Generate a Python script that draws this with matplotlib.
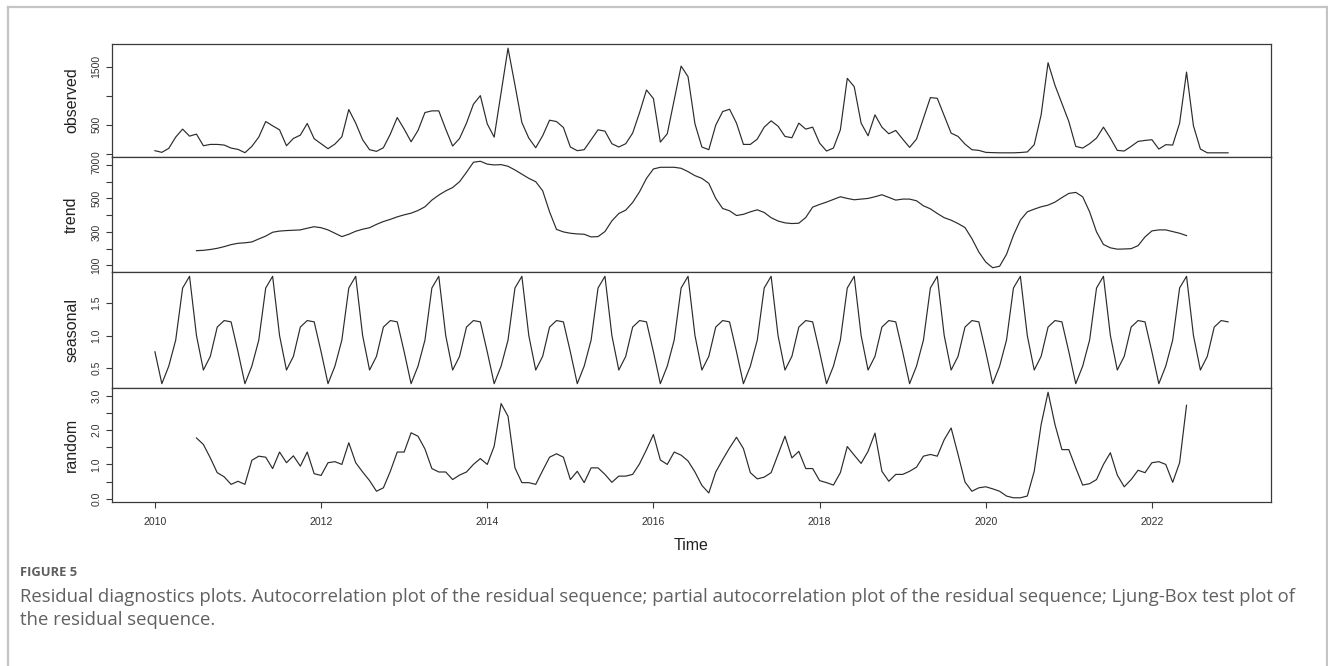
import numpy as np
import matplotlib
matplotlib.use("Agg")
import matplotlib.pyplot as plt
from matplotlib.lines import Line2D

nan = np.nan

# Monthly series, Jan 2010 - Dec 2022
start_year = 2010
observed = [
    52, 23, 92, 286, 424, 303, 338, 137, 160, 160, 149, 97,
    74, 17, 126, 286, 555, 481, 412, 137, 263, 320, 521, 258,
    172, 86, 166, 292, 762, 527, 241, 69, 40, 103, 338, 624,
    424, 206, 401, 710, 739, 739, 424, 132, 263, 527, 853, 1002,
    515, 286, 1050, 1821, 1185, 538, 269, 103, 309, 578, 555, 452,
    115, 52, 69, 241, 412, 389, 172, 115, 172, 355, 710, 1100,
    951, 200, 344, 928, 1512, 1329, 515, 115, 69, 492, 727, 767,
    527, 160, 160, 252, 458, 567, 475, 298, 275, 527, 424, 458,
    183, 46, 97, 412, 1300, 1157, 527, 309, 670, 458, 344, 401,
    252, 109, 252, 613, 968, 956, 653, 355, 298, 166, 69, 57,
    23, 18, 15, 15, 15, 20, 30, 155, 670, 1570, 1180, 870,
    555, 126, 97, 172, 269, 458, 269, 57, 46, 126, 212, 229,
    241, 80, 155, 149, 527, 1409, 481, 80, 15, 15, 15, 15,
]

trend = [
    nan, nan, nan, nan, nan, nan, 188, 190, 195, 202, 212, 224,
    232, 235, 240, 258, 275, 298, 305, 308, 310, 312, 322, 331,
    325, 312, 292, 272, 286, 304, 316, 325, 345, 362, 375, 390,
    402, 412, 428, 450, 490, 520, 545, 565, 600, 656, 716, 722,
    705, 700, 702, 692, 670, 645, 620, 600, 546, 420, 315, 300,
    292, 288, 286, 270, 272, 302, 366, 410, 430, 476, 540, 620,
    676, 686, 686, 686, 680, 660, 636, 620, 590, 500, 440, 426,
    398, 405, 420, 432, 416, 385, 365, 354, 350, 352, 386, 448,
    464, 478, 494, 510, 500, 492, 496, 500, 510, 522, 506, 490,
    496, 496, 486, 456, 438, 410, 385, 370, 350, 326, 260, 180,
    120, 86, 95, 166, 280, 370, 420, 436, 450, 460, 478, 505,
    530, 536, 510, 420, 300, 225, 205, 197, 198, 200, 218, 270,
    306, 312, 312, 302, 292, 278, nan, nan, nan, nan, nan, nan,
]

seasonal_cycle = [0.75, 0.26, 0.53, 0.93, 1.73, 1.91, 1.00, 0.47, 0.68, 1.13, 1.23, 1.21]

random_part = [
    nan, nan, nan, nan, nan, nan, 1.77, 1.58, 1.19, 0.76, 0.64, 0.42,
    0.51, 0.42, 1.12, 1.24, 1.21, 0.88, 1.36, 1.05, 1.25, 0.95, 1.36, 0.73,
    0.68, 1.05, 1.08, 1.00, 1.63, 1.05, 0.78, 0.53, 0.22, 0.32, 0.80, 1.36,
    1.36, 1.92, 1.82, 1.45, 0.88, 0.78, 0.78, 0.56, 0.69, 0.78, 1.00, 1.17,
    1.00, 1.53, 2.77, 2.40, 0.90, 0.47, 0.47, 0.42, 0.82, 1.21, 1.31, 1.21,
    0.56, 0.80, 0.47, 0.90, 0.90, 0.71, 0.48, 0.66, 0.66, 0.71, 1.02, 1.43,
    1.87, 1.13, 1.00, 1.36, 1.27, 1.10, 0.78, 0.39, 0.17, 0.78, 1.14, 1.48,
    1.79, 1.46, 0.76, 0.58, 0.63, 0.76, 1.29, 1.82, 1.19, 1.38, 0.88, 0.88,
    0.53, 0.47, 0.40, 0.76, 1.52, 1.27, 1.03, 1.38, 1.91, 0.80, 0.51, 0.71,
    0.71, 0.80, 0.92, 1.24, 1.29, 1.24, 1.72, 2.06, 1.29, 0.49, 0.22, 0.32,
    0.35, 0.29, 0.22, 0.08, 0.03, 0.03, 0.08, 0.80, 2.16, 3.10, 2.16, 1.43,
    1.43, 0.90, 0.40, 0.44, 0.56, 1.00, 1.34, 0.69, 0.35, 0.56, 0.83, 0.76,
    1.05, 1.08, 1.00, 0.48, 1.05, 2.72, nan, nan, nan, nan, nan, nan,
]

panel_names = ["observed", "trend", "seasonal", "random"]
panel_ticks = [
    [0, 500, 1000, 1500],
    [100, 200, 300, 400, 500, 600, 700],
    [0.5, 1.0, 1.5],
    [0.0, 0.5, 1.0, 1.5, 2.0, 2.5, 3.0],
]
panel_ticklabels = [
    ["0", "500", "", "1500"],
    ["100", "", "300", "", "500", "", "700"],
    ["0.5", "1.0", "1.5"],
    ["0.0", "", "1.0", "", "2.0", "", "3.0"],
]
x_ticks = [2010, 2012, 2014, 2016, 2018, 2020, 2022]

n = len(observed)
time = start_year + np.arange(n) / 12.0
seasonal = np.tile(seasonal_cycle, n // 12)
series = [np.array(observed, float), np.array(trend, float), seasonal,
          np.array(random_part, float)]

W, H = 1328, 666
fig = plt.figure(figsize=(W / 100, H / 100), dpi=100)
fig.patch.set_facecolor("white")
plt.rcParams["font.family"] = ["Liberation Sans", "DejaVu Sans"]


def px_box(left, top, right, bottom):
    return [left / W, 1 - bottom / H, (right - left) / W, (bottom - top) / H]


# outer frame of the figure panel
frame_kw = dict(color="#c4c4c4", lw=1.6, transform=fig.transFigure)
fig.add_artist(Line2D([8 / W, 1327 / W], [1 - 7 / H, 1 - 7 / H], **frame_kw))
fig.add_artist(Line2D([8 / W, 8 / W], [1 - 7 / H, 0], **frame_kw))
fig.add_artist(Line2D([1327 / W, 1327 / W], [1 - 7 / H, 0], **frame_kw))

edges = [44, 157, 272, 388, 502]
ax_left, ax_right = 112, 1271
span = time[-1] - time[0]
xlim = (time[0] - 0.04 * span, time[-1] + 0.04 * span)

axes = []
for k, name in enumerate(panel_names):
    ax = fig.add_axes(px_box(ax_left, edges[k], ax_right, edges[k + 1]))
    ax.plot(time, series[k], color="#2b2b2b", lw=0.85)
    ax.set_xlim(*xlim)
    ax.margins(y=0.04)
    for sp in ax.spines.values():
        sp.set_color("#3a3a3a")
        sp.set_linewidth(0.9)
    ax.set_yticks(panel_ticks[k])
    ax.set_yticklabels(panel_ticklabels[k])
    ax.tick_params(axis="y", direction="out", length=4.5, width=0.8,
                   color="#3a3a3a", labelsize=7.5, pad=3, labelcolor="#333333")
    for lab in ax.get_yticklabels():
        lab.set_rotation(90)
        lab.set_verticalalignment("center")
        lab.set_horizontalalignment("right")
    ax.set_ylabel(name, fontsize=11.5, color="#222222", labelpad=9)
    if k < 3:
        ax.set_xticks([])
    else:
        ax.set_xticks(x_ticks)
        ax.set_xticklabels([str(t) for t in x_ticks])
        ax.tick_params(axis="x", direction="out", length=4.5, width=0.8,
                       color="#3a3a3a", labelsize=7.6, pad=6, labelcolor="#333333")
        ax.set_xlabel("Time", fontsize=11.5, color="#222222", labelpad=8)
    axes.append(ax)

fig.align_ylabels(axes)

# caption
cap_font = ["Open Sans", "DejaVu Sans"]
fig.text(20 / W, 1 - 572 / H, "FIGURE 5", fontsize=9.4, fontweight="bold",
         color="#5e5e5e", family=cap_font, va="center", ha="left")
fig.text(20 / W, 1 - 597 / H,
         "Residual diagnostics plots. Autocorrelation plot of the residual sequence; "
         "partial autocorrelation plot of the residual sequence; Ljung-Box test plot of",
         fontsize=13.3, color="#606060", family=cap_font, va="center", ha="left")
fig.text(20 / W, 1 - 620 / H, "the residual sequence.",
         fontsize=13.3, color="#606060", family=cap_font, va="center", ha="left")

fig.savefig("out.png", dpi=100, facecolor="white")
